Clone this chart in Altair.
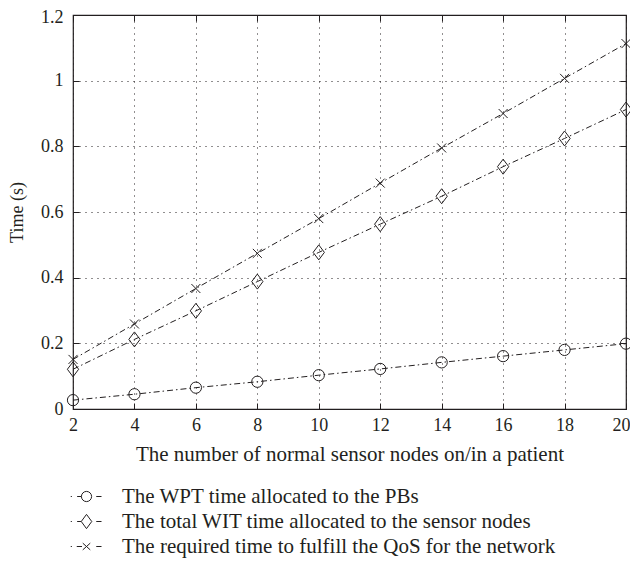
import altair as alt
import pandas as pd

nodes = [2, 4, 6, 8, 10, 12, 14, 16, 18, 20]
wpt_time = [0.027, 0.045, 0.065, 0.083, 0.103, 0.122, 0.142, 0.161, 0.180, 0.199]
wit_time = [0.121, 0.212, 0.299, 0.388, 0.477, 0.563, 0.648, 0.738, 0.824, 0.912]
qos_time = [0.151, 0.259, 0.367, 0.474, 0.580, 0.688, 0.795, 0.900, 1.007, 1.113]
series_names = [
    "The WPT time allocated to the PBs",
    "The total WIT time allocated to the sensor nodes",
    "The required time to fulfill the QoS for the network",
]
x_ticks = nodes
y_ticks = [0, 0.2, 0.4, 0.6, 0.8, 1.0, 1.2]
x_title = "The number of normal sensor nodes on/in a patient"
y_title = "Time (s)"

rows = []
for name, vals in zip(series_names, [wpt_time, wit_time, qos_time]):
    for n, v in zip(nodes, vals):
        rows.append({"nodes": n, "time": v, "series": name})
df = pd.DataFrame(rows)

FONT = "Liberation Serif"
INK = "#231f20"
FS_TICK = 18
FS_TEXT = 21
FS_YTITLE = 18

circle = "M0.75,0A0.75,0.75 0 1,1 -0.75,0A0.75,0.75 0 1,1 0.75,0Z"
diamond = "M0,-1L0.75,0L0,1L-0.75,0Z"
cross = "M-0.6,-0.6L0.6,0.6M-0.6,0.6L0.6,-0.6"
marker_paths = [circle, diamond, cross]

lg_circle = "M0.68,0A0.68,0.68 0 1,1 -0.68,0A0.68,0.68 0 1,1 0.68,0Z"
lg_diamond = "M0,-0.95L0.7,0L0,0.95L-0.7,0Z"
lg_cross = "M-0.5,-0.45L0.5,0.45M-0.5,0.45L0.5,-0.45"
dot = "M-2.1,0L-1.95,0"
right_dash = "M1.3,0L2.0,0"
legend_paths = [
    dot + "M-1.25,0L-0.68,0" + lg_circle + right_dash,
    dot + "M-1.25,0L-0.7,0" + lg_diamond + right_dash,
    dot + "M-1.3,0L-0.6,0" + lg_cross + right_dash,
]

xscale = alt.Scale(domain=[2, 20], nice=False, zero=False)
yscale = alt.Scale(domain=[0, 1.2], nice=False, zero=False)


def tick_axis(orient, vals):
    return alt.Axis(orient=orient, values=vals, labels=False, title=None, grid=False,
                    domain=False, ticks=True, tickSize=6, tickColor=INK, tickWidth=1,
                    offset=-6)


lines = alt.Chart(df).mark_line(strokeDash=[6, 3, 1.5, 3], strokeWidth=1, color=INK).encode(
    x=alt.X("nodes:Q", scale=xscale, axis=alt.Axis(
        orient="bottom", values=x_ticks, title=x_title, grid=True, gridDash=[1, 5],
        gridColor=INK, gridWidth=1, ticks=False, tickSize=0, domain=False,
        labelFlush=False,
        labelOffset={"condition": {"test": "datum.value == 20", "value": -5}, "value": 0},
        labelFont=FONT, labelFontSize=FS_TICK, labelColor=INK,
        labelPadding=7, titleFont=FONT, titleFontSize=FS_TEXT,
        titleFontWeight="normal", titleColor=INK, titlePadding=9)),
    y=alt.Y("time:Q", scale=yscale, axis=alt.Axis(
        orient="left", values=y_ticks, format="~g", title=y_title, grid=True,
        gridDash=[1, 5], gridColor=INK, gridWidth=1, ticks=False, tickSize=0,
        domain=False, labelFlush=False,
        labelOffset={"condition": {"test": "datum.value >= 1.19", "value": 2}, "value": 0},
        labelFont=FONT, labelFontSize=FS_TICK,
        labelColor=INK, labelPadding=10, titleFont=FONT, titleFontSize=FS_YTITLE,
        titleFontWeight="normal", titleColor=INK, titlePadding=14)),
    detail="series:N",
)

points = alt.Chart(df).mark_point(size=225, strokeWidth=1, color=INK, filled=False, opacity=1).encode(
    x=alt.X("nodes:Q", scale=xscale, axis=tick_axis("bottom", x_ticks)),
    y=alt.Y("time:Q", scale=yscale, axis=tick_axis("left", y_ticks)),
    shape=alt.Shape("series:N", scale=alt.Scale(domain=series_names, range=marker_paths),
                    legend=None),
)

legend_layer = alt.Chart(df).mark_point(size=225, strokeWidth=1, color=INK, filled=False, opacity=0).encode(
    x=alt.X("nodes:Q", scale=xscale, axis=tick_axis("top", x_ticks)),
    y=alt.Y("time:Q", scale=yscale, axis=tick_axis("right", y_ticks)),
    shape=alt.Shape("series:N", sort=series_names,
                    scale=alt.Scale(domain=series_names, range=legend_paths),
                    legend=alt.Legend(
                        orient="none", legendX=3, legendY=471, direction="vertical",
                        title=None, labelFont=FONT, labelFontSize=FS_TEXT, labelColor=INK,
                        labelLimit=600, symbolSize=225, symbolOpacity=1,
                        symbolStrokeColor=INK, symbolFillColor="transparent",
                        symbolStrokeWidth=1, rowPadding=3, labelOffset=25)),
)

chart = alt.layer(lines, points, legend_layer).resolve_scale(
    shape="independent"
).resolve_axis(
    x="independent", y="independent"
).properties(
    width=553, height=394, autosize="none",
    padding={"left": 65, "top": 7, "right": 4, "bottom": 149},
).configure_view(stroke=INK, strokeWidth=1.2)

chart.save("out.html", embed_options={"renderer": "svg", "actions": False})
